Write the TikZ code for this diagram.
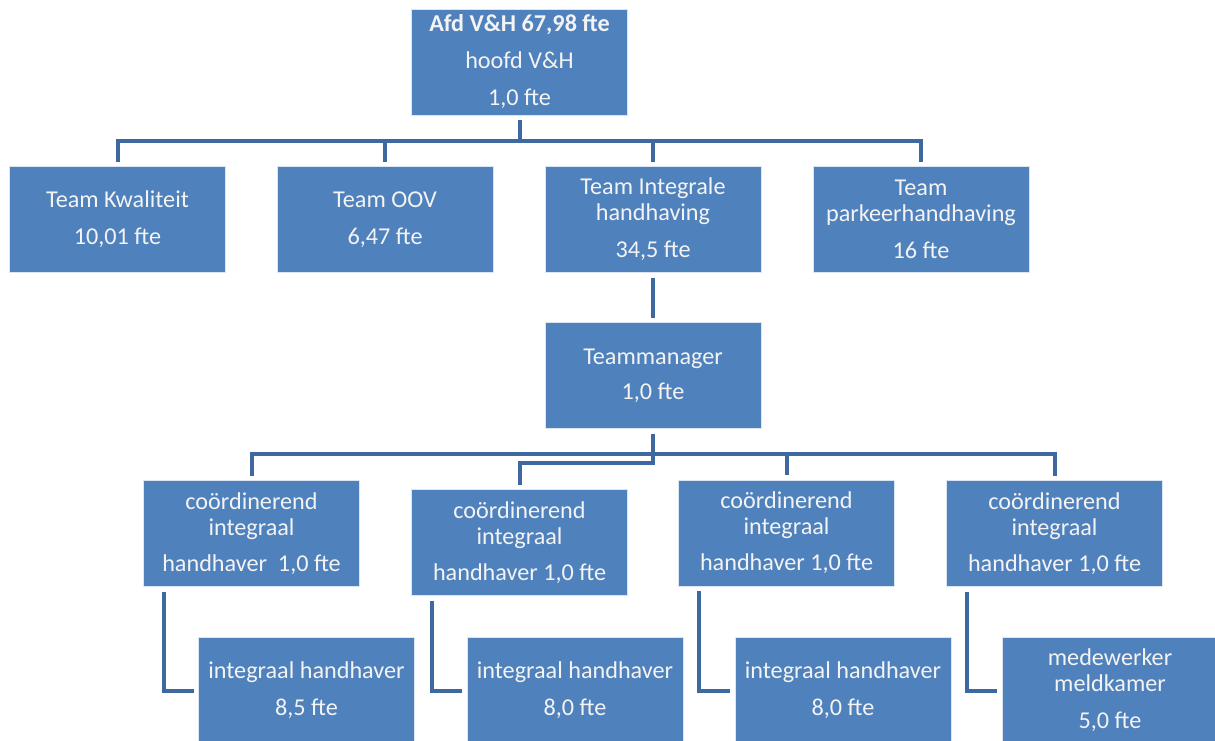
\documentclass[tikz,border=0pt]{standalone}
\usepackage{fontspec}
\setmainfont{Carlito}
\definecolor{boxblue}{HTML}{4F81BD}
\definecolor{linkblue}{HTML}{3D69A0}
\definecolor{boxtext}{HTML}{F3F3F3}
\begin{document}
\begin{tikzpicture}[x=1pt,y=-1pt,
  unit/.style={rectangle, fill=boxblue, draw=white!80!boxblue, line width=0.8pt,
    text=boxtext, minimum width=216pt, minimum height=106pt, inner sep=0pt,
    outer sep=5pt, align=center, font=\fontsize{24.2}{26}\selectfont},
  link/.style={draw=linkblue, line width=4pt}]
\useasboundingbox (0,0) rectangle (1215,740);
\fill[white] (0,0) rectangle (1215,740);
\clip (0,0) rectangle (1215,740);

% department head
\node[unit] (head) at (519.5,62) {\textbf{Afd V\&H 67,98 fte}\\[11pt] hoofd V\&H\\[11pt] 1,0 fte};

% teams
\node[unit] (kwal) at (117.5,219.5) {Team Kwaliteit\\[11pt] 10,01 fte};
\node[unit] (oov) at (385,219.5) {Team OOV\\[11pt] 6,47 fte};
\node[unit] (integ) at (653,219.5) {Team Integrale\\ handhaving\\[11pt] 34,5 fte};
\node[unit] (parkeer) at (921,219.5) {Team\\ parkeerhandhaving\\[11pt] 16 fte};

% team manager
\node[unit] (manager) at (653,375.5) {Teammanager\\[9pt] 1,0 fte};

% coordinators
\node[unit] (coord1) at (251.5,533.5) {coördinerend\\ integraal\\[10pt] handhaver\ \ 1,0 fte};
\node[unit] (coord2) at (519.5,542.5) {coördinerend\\ integraal\\[10pt] handhaver 1,0 fte};
\node[unit] (coord3) at (786.5,533) {coördinerend\\ integraal\\[10pt] handhaver 1,0 fte};
\node[unit] (coord4) at (1054.5,533.5) {coördinerend\\ integraal\\[10pt] handhaver 1,0 fte};

% staff
\node[unit, minimum height=107pt] (staff1) at (306.5,690.5) {integraal handhaver\\[11pt] 8,5 fte};
\node[unit, minimum height=107pt] (staff2) at (575,690.5) {integraal handhaver\\[11pt] 8,0 fte};
\node[unit, minimum height=107pt] (staff3) at (843,690.5) {integraal handhaver\\[11pt] 8,0 fte};
\node[unit, minimum height=107pt] (staff4) at (1110,690.5) {medewerker\\ meldkamer\\[11pt] 5,0 fte};

% bus lines
\coordinate (busA) at (519.5,141);
\coordinate (busB) at (653,454);
\coordinate (busC) at (653,463);

\draw[link] (head.south) -- (busA);
\draw[link] (kwal.north) -- (kwal.north |- busA) -- (parkeer.north |- busA) -- (parkeer.north);
\draw[link] (oov.north) -- (oov.north |- busA);
\draw[link] (integ.north) -- (integ.north |- busA);
\draw[link] (integ.south) -- (manager.north);

\draw[link] (manager.south) -- (busC) -| (coord2.north);
\draw[link] (coord1.north) -- (coord1.north |- busB) -- (coord4.north |- busB) -- (coord4.north);
\draw[link] (coord3.north) -- (coord3.north |- busB);

% coordinator to staff elbows
\draw[link] ([xshift=25pt]coord1.south west) |- (staff1.west);
\draw[link] ([xshift=25pt]coord2.south west) |- (staff2.west);
\draw[link] ([xshift=25pt]coord3.south west) |- (staff3.west);
\draw[link] ([xshift=25pt]coord4.south west) |- (staff4.west);
\end{tikzpicture}
\end{document}
